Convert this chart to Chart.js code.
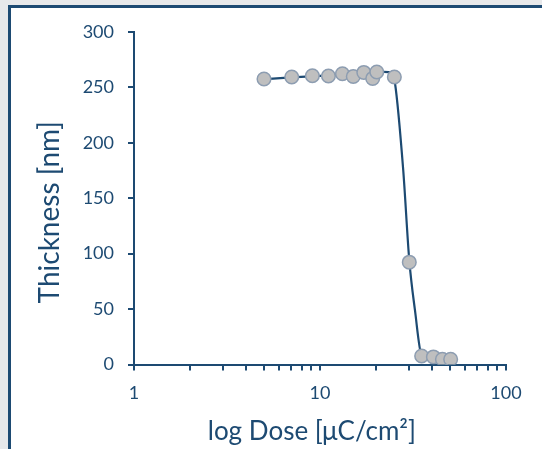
<!DOCTYPE html>
<html>
<head>
<meta charset="utf-8">
<script src="https://cdn.jsdelivr.net/npm/chart.js@4/dist/chart.umd.min.js"></script>
<style>
  html, body { margin: 0; padding: 0; width: 542px; height: 449px; overflow: hidden; background: #e7e8ea; }
  #panel { position: absolute; left: 8px; top: 5px; width: 560px; height: 480px; background: #ffffff; border: 3px solid #1d4a72; }
  #wrap { position: absolute; left: 0; top: 0; width: 542px; height: 449px; }
</style>
</head>
<body>
<div id="panel"></div>
<div id="wrap"><canvas id="c" width="542" height="449"></canvas></div>
<script>
// Measured points
const doseValues = [5.0, 7.05, 9.1, 11.1, 13.2, 15.1, 17.2, 19.2, 20.2, 25.1, 30.2, 35.2, 40.7, 45.5, 50.4];
const thicknessValues = [257.6, 259.4, 260.5, 260.3, 262.3, 259.9, 263.5, 258.1, 263.9, 259.4, 92.3, 7.7, 6.8, 4.7, 4.7];
// Fitted curve
const fitDose = [5, 7, 10, 15, 20, 22, 24.3, 25.3, 28, 30.2, 32.4, 35.2, 40, 50];
const fitThickness = [257.5, 259, 260.5, 262, 263.5, 264, 263.3, 254, 176, 94, 49, 8, 4, 3];
// Axis ticks
const xTickValues = [1,2,3,4,5,6,7,8,9,10,20,30,40,50,60,70,80,90,100];
const xTickLabels = {1: '1', 10: '10', 100: '100'};
const yTickValues = [0, 50, 100, 150, 200, 250, 300];

const navy = '#1d4a72';
const pointsData = doseValues.map((d, i) => ({x: d, y: thicknessValues[i]}));
const fitData = fitDose.map((d, i) => ({x: d, y: fitThickness[i]}));

new Chart(document.getElementById('c'), {
  type: 'scatter',
  data: {
    datasets: [
      {
        label: 'Measured',
        data: pointsData,
        order: 0,
        showLine: false,
        pointRadius: 6.8,
        pointBackgroundColor: '#bfbfbf',
        pointBorderColor: '#8d9db1',
        pointBorderWidth: 1.5
      },
      {
        label: 'Fit',
        data: fitData,
        order: 1,
        showLine: true,
        borderColor: navy,
        borderWidth: 2.2,
        pointRadius: 0,
        cubicInterpolationMode: 'monotone',
        fill: false
      }
    ]
  },
  options: {
    responsive: false,
    animation: false,
    events: [],
    layout: { padding: { left: 0, top: 32, right: 36, bottom: 0 } },
    plugins: { legend: { display: false }, tooltip: { enabled: false } },
    scales: {
      x: {
        type: 'logarithmic',
        min: 1,
        max: 100,
        afterBuildTicks: (scale) => { scale.ticks = xTickValues.map(v => ({value: v})); },
        afterFit: (scale) => { scale.height = 449 - 364.5; },
        border: { display: true, color: navy, width: 2 },
        grid: { drawOnChartArea: false, drawTicks: true, tickLength: 6, color: navy, lineWidth: 2 },
        ticks: {
          autoSkip: false,
          maxRotation: 0,
          padding: 12,
          color: navy,
          font: { family: 'Lato', size: 18 },
          callback: (v) => xTickLabels[v] || ''
        },
        title: {
          display: true,
          text: 'log Dose [μC/cm²]\u2002\u2009',
          color: navy,
          font: { family: 'Lato', size: 26 },
          padding: { top: 0, bottom: 2 }
        }
      },
      y: {
        min: 0,
        max: 300,
        afterBuildTicks: (scale) => { scale.ticks = yTickValues.map(v => ({value: v})); },
        afterFit: (scale) => { scale.width = 134; },
        border: { display: true, color: navy, width: 2 },
        grid: { drawOnChartArea: false, drawTicks: true, tickLength: 6, color: navy, lineWidth: 2 },
        ticks: {
          padding: 14,
          color: navy,
          font: { family: 'Lato', size: 18 }
        },
        title: {
          display: true,
          text: 'Thickness [nm]\u2002\u2002',
          color: navy,
          font: { family: 'Lato', size: 28 },
          padding: { top: 33, bottom: 0 }
        }
      }
    }
  }
});
</script>
</body>
</html>
